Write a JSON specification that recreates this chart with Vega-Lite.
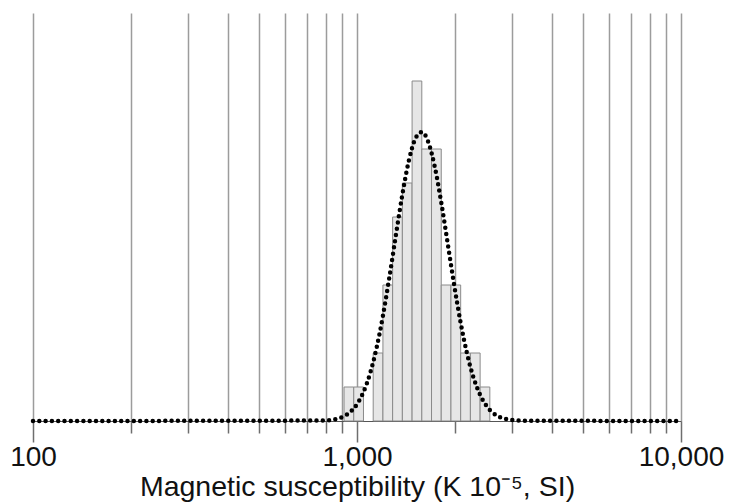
{
  "$schema": "https://vega.github.io/schema/vega-lite/v6.json",
  "autosize": "none",
  "width": 648,
  "height": 408,
  "padding": {"left": 33, "top": 13, "right": 50, "bottom": 81},
  "background": "white",
  "config": {"view": {"stroke": null}, "font": "Liberation Sans"},
  "datasets": {
    "bins": [
      {"lo": 912.0, "hi": 977.2, "count": 1},
      {"lo": 977.2, "hi": 1047.1, "count": 1},
      {"lo": 1122.0, "hi": 1202.3, "count": 2},
      {"lo": 1202.3, "hi": 1288.2, "count": 4},
      {"lo": 1288.2, "hi": 1380.4, "count": 6},
      {"lo": 1380.4, "hi": 1479.1, "count": 7},
      {"lo": 1479.1, "hi": 1584.9, "count": 10},
      {"lo": 1584.9, "hi": 1698.2, "count": 8},
      {"lo": 1698.2, "hi": 1819.7, "count": 8},
      {"lo": 1819.7, "hi": 1949.8, "count": 4},
      {"lo": 1949.8, "hi": 2089.3, "count": 4},
      {"lo": 2089.3, "hi": 2238.7, "count": 2},
      {"lo": 2238.7, "hi": 2398.8, "count": 2},
      {"lo": 2398.8, "hi": 2570.4, "count": 1}
    ],
    "curve": [
      {"k": 100, "f": 0},
      {"k": 794.3, "f": 0.014},
      {"k": 831.8, "f": 0.031},
      {"k": 871.0, "f": 0.068},
      {"k": 912.0, "f": 0.139},
      {"k": 955.0, "f": 0.27},
      {"k": 1000, "f": 0.494},
      {"k": 1047.1, "f": 0.852},
      {"k": 1096.5, "f": 1.388},
      {"k": 1148.2, "f": 2.133},
      {"k": 1202.3, "f": 3.093},
      {"k": 1258.9, "f": 4.233},
      {"k": 1318.3, "f": 5.466},
      {"k": 1380.4, "f": 6.659},
      {"k": 1445.4, "f": 7.655},
      {"k": 1513.6, "f": 8.303},
      {"k": 1584.9, "f": 8.498},
      {"k": 1659.6, "f": 8.207},
      {"k": 1737.8, "f": 7.478},
      {"k": 1819.7, "f": 6.431},
      {"k": 1905.5, "f": 5.217},
      {"k": 1995.3, "f": 3.994},
      {"k": 2089.3, "f": 2.886},
      {"k": 2187.8, "f": 1.967},
      {"k": 2290.9, "f": 1.265},
      {"k": 2398.8, "f": 0.768},
      {"k": 2511.9, "f": 0.44},
      {"k": 2630.3, "f": 0.237},
      {"k": 2754.2, "f": 0.121},
      {"k": 2884.0, "f": 0.058},
      {"k": 3020.0, "f": 0.026},
      {"k": 3162.3, "f": 0.011},
      {"k": 10000, "f": 0}
    ]
  },
  "layer": [
    {
      "data": {"name": "bins"},
      "mark": {"type": "rect", "fill": "#e6e6e6", "stroke": "#8a8a8a", "strokeWidth": 1},
      "encoding": {
        "x": {
          "field": "lo",
          "type": "quantitative",
          "scale": {"type": "log", "domain": [100, 10000], "nice": false},
          "axis": {
            "values": [100, 200, 300, 400, 500, 600, 700, 800, 900, 1000, 2000, 3000, 4000, 5000, 6000, 7000, 8000, 9000, 10000],
            "grid": true,
            "gridColor": "#9c9c9c",
            "gridWidth": 1.5,
            "gridOpacity": 1,
            "domain": true,
            "domainColor": "#555555",
            "domainWidth": 1,
            "tickColor": "#6e6e6e",
            "tickWidth": 1.5,
            "tickSize": {"condition": {"test": "datum.value == 100 || datum.value == 1000 || datum.value == 10000", "value": 21}, "value": 12},
            "labelExpr": "datum.value == 100 || datum.value == 1000 || datum.value == 10000 ? format(datum.value, ',') : ''",
            "labelFont": "Liberation Sans",
            "labelFontSize": 28,
            "labelColor": "#111111",
            "labelPadding": 1,
            "labelFlush": false,
            "labelOverlap": false,
            "labelBound": false,
            "title": "Magnetic susceptibility (Κ 10⁻⁵, SI)",
            "titleFont": "Liberation Sans",
            "titleFontSize": 28.5,
            "titleFontWeight": "normal",
            "titleColor": "#111111",
            "titlePadding": 1
          }
        },
        "x2": {"field": "hi"},
        "y": {
          "field": "count",
          "type": "quantitative",
          "scale": {"domain": [0, 12], "nice": false},
          "axis": null
        },
        "y2": {"datum": 0}
      }
    },
    {
      "data": {"name": "curve"},
      "mark": {"type": "line", "color": "#000000", "strokeWidth": 4.5, "strokeCap": "round", "strokeDash": [0, 6.3], "interpolate": "monotone"},
      "encoding": {
        "x": {"field": "k", "type": "quantitative"},
        "y": {"field": "f", "type": "quantitative"}
      }
    }
  ]
}
